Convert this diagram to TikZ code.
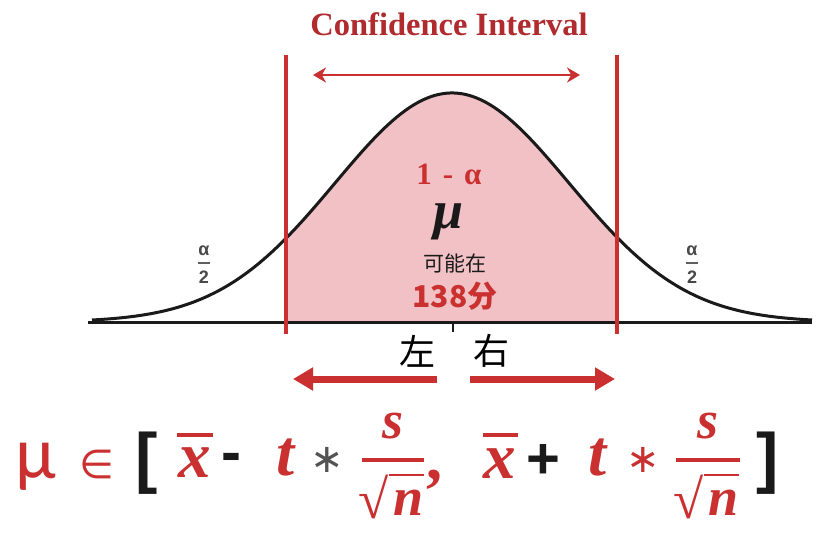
\documentclass[tikz,border=0pt]{standalone}
\usepackage{fontspec}
\setmainfont{Liberation Serif}
\newfontfamily\cjk{Noto Sans CJK SC}
\newfontfamily\carl{Carlito}
\newfontfamily\dvs{DejaVu Sans}
\newfontfamily\lsans{Liberation Sans}
\usetikzlibrary{arrows.meta}
\definecolor{cired}{HTML}{C9302F}
\definecolor{pinkfill}{HTML}{F2C1C5}
\definecolor{darkred}{HTML}{B02A2E}
\definecolor{ink}{HTML}{1A1A1A}
\tikzset{
  lbl/.style={inner sep=0pt, outer sep=0pt},
  fvar/.style={lbl, cired, font=\fontsize{65}{65}\selectfont\bfseries\itshape},
  ffrac/.style={lbl, cired, font=\fontsize{54}{54}\selectfont\bfseries\itshape},
  fbar/.style={cired, line width=3.5pt},
  halfalpha/.style={lbl, text=ink!80, font=\lsans\bfseries\fontsize{18}{18}\selectfont},
  redline/.style={cired, line width=3.5pt},
  bigarrow/.style={cired, line width=7pt, -{Triangle[length=20pt,width=22pt]}},
  cjktext/.style={lbl, font=\cjk\fontsize{36}{36}\selectfont}
}
\begin{document}
\begin{tikzpicture}[x=1pt,y=-1pt]
\useasboundingbox (0,0) rectangle (838,538);
\fill[white] (0,0) rectangle (838,538);

% shaded area
\fill[pinkfill] (286,322) -- plot[domain=286:617,samples=120] (\x,{322-229*exp(-0.5*((\x-452)/117)^2)}) -- (617,322) -- cycle;
% curve
\draw[ink, line width=3pt, line join=round] plot[domain=92:812,samples=220] (\x,{322-229*exp(-0.5*((\x-452)/117)^2)});
% baseline
\coordinate (bl) at (88,322);
\coordinate (br) at (812,322);
\draw[ink, line width=3pt] (bl) -- (br);
\coordinate (tk1) at (453,322);
\coordinate (tk2) at (453,332);
\draw[ink, line width=2pt] (tk1) -- (tk2);

% red verticals
\coordinate (lt) at (286,55);
\coordinate (lb) at (286,334);
\coordinate (rt) at (617,55);
\coordinate (rb) at (617,334);
\draw[redline] (lt) -- (lb);
\draw[redline] (rt) -- (rb);

% title and top arrow
\node[lbl, darkred, anchor=base, font=\fontsize{32.5}{32.5}\selectfont\bfseries] (title) at (449,35) {Confidence Interval};
\coordinate (ta1) at (313,75);
\coordinate (ta2) at (580,75);
\draw[cired, line width=2.5pt, {Stealth[length=13pt,width=15pt]}-{Stealth[length=13pt,width=15pt]}] (ta1) -- (ta2);

% inner labels
\node[lbl, cired, anchor=base, font=\fontsize{31}{31}\selectfont\bfseries] (conf) at (449,184) {1\hspace{11pt}-\hspace{11pt}α};
\node[lbl, ink, font=\fontsize{54}{54}\selectfont\bfseries\itshape] (mu) at (449,222) {μ};
\node[lbl, ink, font=\cjk\fontsize{21}{21}\selectfont] (kn) at (455,263) {可能在};
\node[lbl, cired, font=\cjk\bfseries\fontsize{30}{30}\selectfont] (score) at (455,296) {138分};

% alpha/2 labels
\node[halfalpha] (a1) at (204,251) {α};
\node[halfalpha] (d1) at (204,277) {2};
\draw[ink!70, line width=1.2pt] (a1.south west |- 0,263) -- (a1.south east |- 0,263);
\node[halfalpha] (a2) at (692,251) {α};
\node[halfalpha] (d2) at (692,277) {2};
\draw[ink!70, line width=1.2pt] (a2.south west |- 0,263) -- (a2.south east |- 0,263);

% left / right
\node[cjktext] (zuo) at (417,351) {左};
\node[cjktext] (you) at (491,351) {右};
\coordinate (la1) at (437,379);
\coordinate (la2) at (293,379);
\coordinate (ra1) at (470,379);
\coordinate (ra2) at (615,379);
\draw[bigarrow] (la1) -- (la2);
\draw[bigarrow] (ra1) -- (ra2);

% formula
\node[lbl, cired, font=\carl\fontsize{74}{74}\selectfont] (fmu) at (36,467) {μ};
\node[lbl, cired, font=\dvs\fontsize{40}{40}\selectfont] (fin) at (97,464) {∈};
\node[lbl, ink, font=\lsans\bfseries\fontsize{67}{67}\selectfont] (lbr) at (147,463) {[};
\node[fvar] (x1) at (195,463) {x};
\draw[fbar, line width=4pt] (177,435) -- (213,435);
\node[lbl, ink, font=\lsans\bfseries\fontsize{60}{60}\selectfont] (minus) at (231,463) {-};
\node[fvar] (t1) at (286,458) {t};
\node[lbl, ink!75, font=\dvs\fontsize{40}{40}\selectfont] (st1) at (327,460) {∗};
\node[ffrac] (s1) at (393,426) {s};
\draw[fbar] (362,460) -- (424,460);
\node[lbl, cired, font=\fontsize{55}{55}\selectfont] (r1) at (374,497) {√};
\node[ffrac] (n1) at (409,503) {n};
\draw[cired, line width=2pt] (r1.north east) -- (n1.east |- r1.north);
\node[lbl, cired, font=\fontsize{64}{64}\selectfont\bfseries] (comma) at (434,480) {,};
\node[fvar] (x2) at (500,464) {x};
\draw[fbar, line width=4pt] (483,435) -- (518,435);
\node[lbl, ink, font=\lsans\bfseries\fontsize{58}{58}\selectfont] (plus) at (543,461) {+};
\node[fvar] (t2) at (598,458) {t};
\node[lbl, cired, font=\dvs\fontsize{40}{40}\selectfont] (st2) at (643,460) {∗};
\node[ffrac] (s2) at (708,426) {s};
\draw[fbar] (676,460) -- (740,460);
\node[lbl, cired, font=\fontsize{55}{55}\selectfont] (r2) at (689,497) {√};
\node[ffrac] (n2) at (724,503) {n};
\draw[cired, line width=2pt] (r2.north east) -- (n2.east |- r2.north);
\node[lbl, ink, font=\lsans\bfseries\fontsize{67}{67}\selectfont] (rbr) at (768,463) {]};
\end{tikzpicture}
\end{document}
